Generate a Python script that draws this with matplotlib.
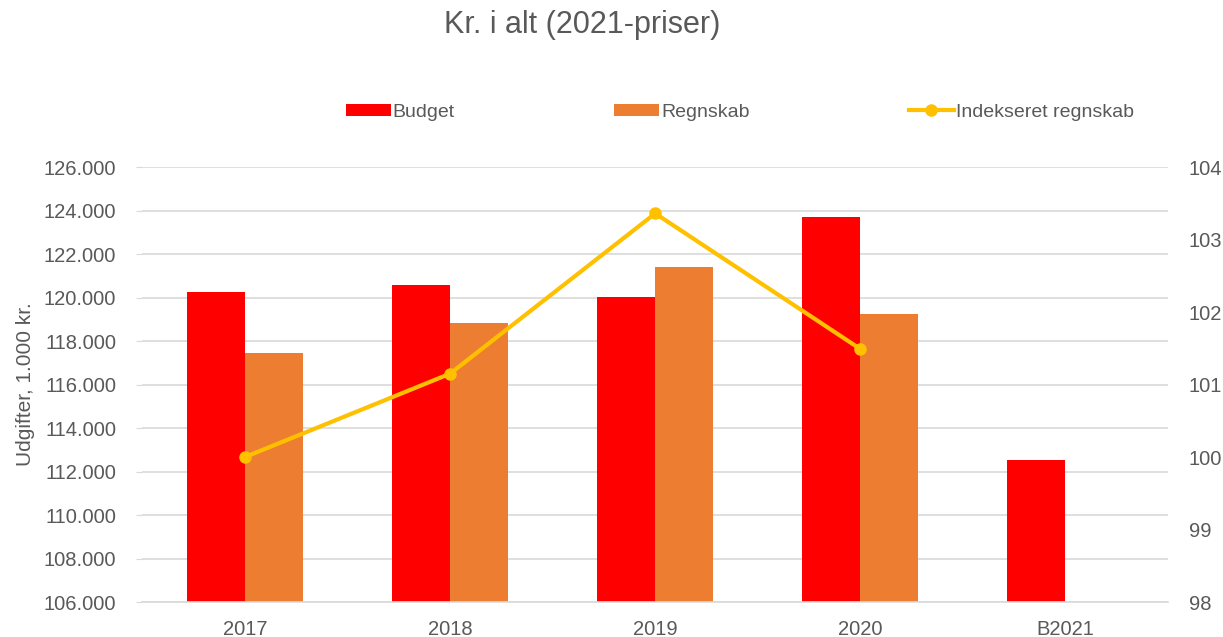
import numpy as np
import matplotlib
matplotlib.use("Agg")
import matplotlib.pyplot as plt
from matplotlib.ticker import FuncFormatter

plt.rcParams['font.family'] = ['Liberation Sans', 'DejaVu Sans']

years = ['2017', '2018', '2019', '2020', 'B2021']
budget = [120270, 120580, 120010, 123720, 112530]
regnskab = [117470, 118820, 121420, 119220, None]
indeks = [100.0, 101.15, 103.36, 101.49]

red = '#FF0000'
orange = '#ED7D31'
yellow = '#FFC000'
grid = '#D9D9D9'
txt = '#595959'

fig = plt.figure(figsize=(12.23, 6.37), dpi=100)
ax = fig.add_axes([0.1165, 0.0549, 0.8385, 0.6829])
ax2 = ax.twinx()

x = np.arange(len(years))
w = 0.283
ax.bar(x - w / 2, budget, width=w, color=red, label='Budget', zorder=2)
reg_x = [i + w / 2 for i, v in enumerate(regnskab) if v is not None]
reg_y = [v for v in regnskab if v is not None]
ax.bar(reg_x, reg_y, width=w, color=orange, label='Regnskab', zorder=2)
ax2.plot(x[:len(indeks)], indeks, color=yellow, lw=3, marker='o', ms=8,
         label='Indekseret regnskab', zorder=3)

ax.set_xlim(-0.5, 4.5)
ax.set_ylim(106000, 126000)
ax.set_yticks(np.arange(106000, 126001, 2000))
ax.yaxis.set_major_formatter(FuncFormatter(lambda v, p: f'{int(v):,}'.replace(',', '.')))
ax2.set_ylim(98, 104)
ax2.set_yticks(np.arange(98, 105, 1))

ax.grid(axis='y', color=grid, lw=1.2, zorder=0)
ax.set_axisbelow(True)
for a in (ax, ax2):
    for s in a.spines.values():
        s.set_visible(False)
ax.spines['bottom'].set_visible(True)
ax.spines['bottom'].set_color(grid)
ax.spines['bottom'].set_linewidth(1.2)

ax.set_xticks(x)
ax.set_xticklabels(years)
ax.tick_params(axis='x', length=0, pad=13, labelsize=14.5, labelcolor=txt)
ax.tick_params(axis='y', length=4, color=grid, pad=15, labelsize=14.5, labelcolor=txt)
ax2.tick_params(axis='y', length=0, pad=15, labelsize=14.5, labelcolor=txt)

ax.set_ylabel('Udgifter, 1.000 kr.', fontsize=15, color=txt, labelpad=6)

fig.suptitle('Kr. i alt (2021-priser)', x=0.476, y=0.985, fontsize=22, color=txt, va='top')

h1, l1 = ax.get_legend_handles_labels()
h2, l2 = ax2.get_legend_handles_labels()
leg = fig.legend(h1 + h2, l1 + l2, ncol=3, loc='center', bbox_to_anchor=(0.605, 0.824),
                 frameon=False, fontsize=14, handlelength=2.3, handleheight=0.55,
                 handletextpad=0.1, columnspacing=8.2)
for t in leg.get_texts():
    t.set_color(txt)

fig.savefig('out.png', dpi=100)
